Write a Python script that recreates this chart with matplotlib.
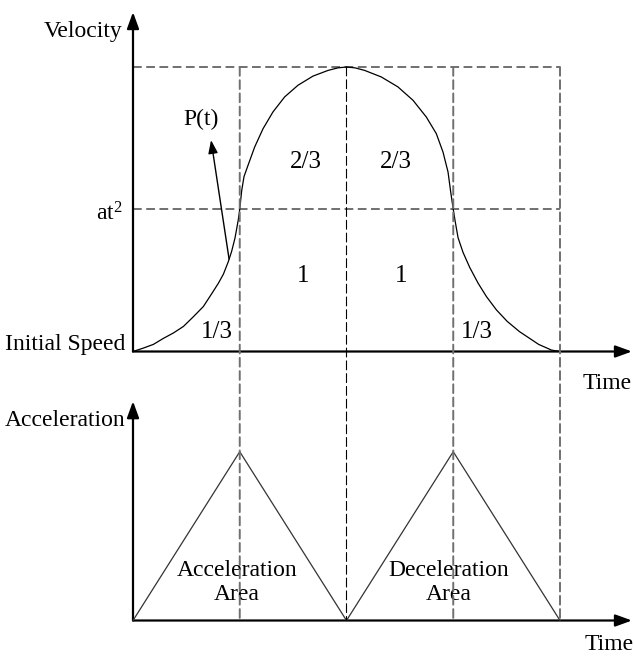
import matplotlib
matplotlib.use("Agg")
import matplotlib.pyplot as plt
from matplotlib.patches import ConnectionPatch

plt.rcParams['font.family'] = ['Liberation Serif', 'DejaVu Serif']
plt.rcParams['mathtext.fontset'] = 'custom'
plt.rcParams['mathtext.rm'] = 'Liberation Serif'
plt.rcParams['mathtext.it'] = 'Liberation Serif:italic'

# ---- data ----
phase_t = [0, 1, 2, 3, 4]                 # phase boundaries (time units)
level_v = [0.5, 1.0]                      # at^2 level and max velocity
vel_t = [0.0, 0.097, 0.191, 0.284, 0.378, 0.472, 0.565, 0.659, 0.737, 0.800,
         0.847, 0.893, 0.924, 0.955, 0.986, 1.0,
         1.018, 1.040, 1.077, 1.140, 1.218, 1.311, 1.421, 1.546, 1.686, 1.827, 1.920, 2.0,
         2.080, 2.170, 2.326, 2.482, 2.623, 2.748, 2.841, 2.904, 2.951, 2.976, 3.0,
         3.016, 3.045, 3.092, 3.155, 3.233, 3.311, 3.405, 3.505, 3.620, 3.720, 3.800,
         3.920, 4.0]
vel_v = [0.0, 0.012, 0.025, 0.046, 0.065, 0.088, 0.122, 0.158, 0.203, 0.240,
         0.272, 0.316, 0.352, 0.398, 0.462, 0.5,
         0.565, 0.615, 0.654, 0.719, 0.783, 0.842, 0.895, 0.936, 0.968, 0.988, 0.997, 1.0,
         0.997, 0.988, 0.965, 0.930, 0.883, 0.824, 0.766, 0.701, 0.631, 0.561, 0.5,
         0.462, 0.400, 0.348, 0.295, 0.240, 0.193, 0.146, 0.106, 0.070, 0.045, 0.025,
         0.005, 0.0]
acc_t = [0, 1, 2, 3, 4]
acc_v = [0, 1, 0, 1, 0]
area_labels = ['1/3', '1', '2/3', '2/3', '1', '1/3']

fig = plt.figure(figsize=(6.34, 6.57), dpi=100)
ax1 = fig.add_axes([0, 1 - 375 / 657, 1, 375 / 657])
ax2 = fig.add_axes([0, 0, 1, 282 / 657])
ax1.set_xlim(-1.2459, 4.6932)
ax1.set_ylim(-0.0826, 1.2355)
ax2.set_xlim(-1.2459, 4.6932)
ax2.set_ylim(-0.2162, 1.4544)
for ax in (ax1, ax2):
    ax.axis('off')

gray = '#707070'
FS = 17

# axes with arrows
arrow_kw = dict(arrowstyle='-|>,head_length=0.55,head_width=0.2', lw=1.6,
                color='black', mutation_scale=18, shrinkA=0, shrinkB=0)
ax1.annotate('', xy=(0, 1.193), xytext=(0, 0), arrowprops=arrow_kw)
ax1.annotate('', xy=(4.674, 0), xytext=(0, 0), arrowprops=arrow_kw)
ax2.annotate('', xy=(0, 1.299), xytext=(0, 0), arrowprops=arrow_kw)
ax2.annotate('', xy=(4.674, 0), xytext=(0, 0), arrowprops=arrow_kw)

# horizontal dashed guides
for lv in level_v:
    ax1.plot([phase_t[0], phase_t[-1]], [lv, lv], color=gray, lw=1.4,
             dashes=(4.5, 2.3), zorder=1)

# vertical dashed guides spanning both panels
for t in phase_t[1:]:
    if t == 2:
        col, lw, ls = 'black', 0.8, (0, (8, 3.5))
    else:
        col, lw, ls = gray, 1.4, (0, (4.5, 2.3))
    con = ConnectionPatch(xyA=(t, level_v[-1]), coordsA=ax1.transData,
                          xyB=(t, 0), coordsB=ax2.transData,
                          color=col, lw=lw, linestyle=ls, zorder=1)
    fig.add_artist(con)

# velocity curve
ax1.plot(vel_t, vel_v, color='black', lw=0.9, zorder=3,
         solid_joinstyle='round')

# acceleration triangles
ax2.plot(acc_t, acc_v, color='#333333', lw=0.9, zorder=3)

# labels (top)
ax1.text(-0.094, 1.105, 'Velocity', ha='right', va='baseline', fontsize=FS)
ax1.text(-0.094, 0.462, r'at$^{2}$', ha='right', va='baseline', fontsize=FS)
ax1.text(-0.075, 0.005, 'Initial Speed', ha='right', va='baseline', fontsize=FS)
ax1.text(4.437, -0.111, 'Time', ha='center', va='center', fontsize=FS, clip_on=False)
ax1.text(0.637, 0.814, 'P(t)', ha='center', va='center', fontsize=FS)
ax1.annotate('', xy=(0.731, 0.743), xytext=(0.900, 0.325),
             arrowprops=dict(arrowstyle='-|>,head_length=0.5,head_width=0.18',
                             lw=1.0, color='black', mutation_scale=16,
                             shrinkA=0, shrinkB=0))

area_pos = [(0.784, 0.070), (1.593, 0.265), (1.621, 0.666),
            (2.459, 0.666), (2.511, 0.265), (3.222, 0.070)]
for lab, (x, y) in zip(area_labels, area_pos):
    ax1.text(x, y, lab, ha='center', va='center', fontsize=FS + 1)

# labels (bottom)
ax2.text(-0.070, 1.153, 'Acceleration', ha='right', va='baseline', fontsize=FS)
ax2.text(0.974, 0.225, 'Acceleration\nArea', ha='center', va='center',
         fontsize=FS, linespacing=1.2)
ax2.text(2.960, 0.225, 'Deceleration\nArea', ha='center', va='center',
         fontsize=FS, linespacing=1.2)
ax2.text(4.459, -0.145, 'Time', ha='center', va='center', fontsize=FS)

fig.savefig('out.png', dpi=100)
